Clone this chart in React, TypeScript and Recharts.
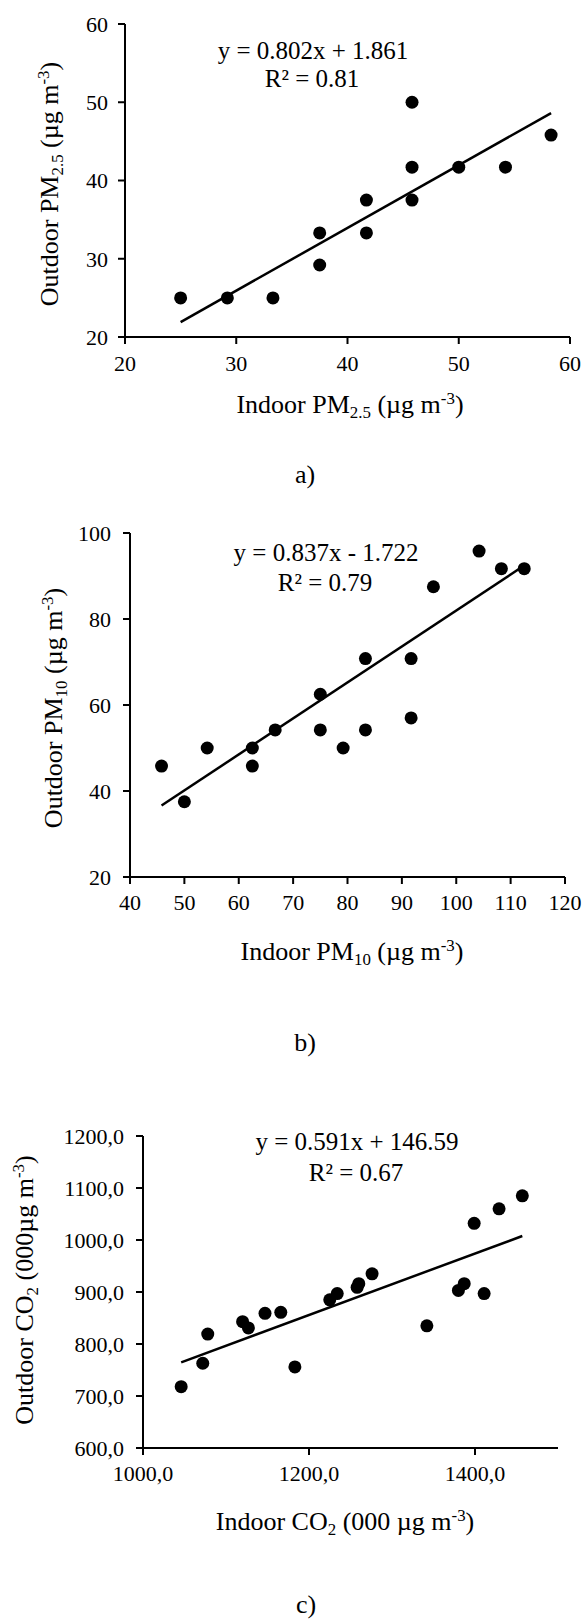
// App.tsx
import { ScatterChart, Scatter, XAxis, YAxis, ReferenceLine } from 'recharts';

// a) PM2.5
const pm25Indoor = [25, 29.2, 33.3, 37.5, 37.5, 41.7, 41.7, 45.8, 45.8, 45.8, 50, 54.2, 58.3];
const pm25Outdoor = [25, 25, 25, 33.3, 29.2, 37.5, 33.3, 50, 41.7, 37.5, 41.7, 41.7, 45.8];
const pm25Ticks = [20, 30, 40, 50, 60];

// b) PM10
const pm10Indoor = [45.8, 50, 54.2, 62.5, 62.5, 66.7, 75, 75, 79.2, 83.3, 83.3, 91.7, 91.7, 95.8, 104.2, 108.3, 112.5];
const pm10Outdoor = [45.8, 37.5, 50, 50, 45.8, 54.2, 62.5, 54.2, 50, 70.8, 54.2, 70.8, 57, 87.5, 95.8, 91.7, 91.7];
const pm10XTicks = [40, 50, 60, 70, 80, 90, 100, 110, 120];
const pm10YTicks = [20, 40, 60, 80, 100];

// c) CO2
const co2Indoor = [1046, 1072, 1078, 1120, 1127, 1147, 1166, 1183, 1225, 1234, 1258, 1260, 1276, 1342, 1380, 1387, 1411, 1399, 1429, 1457];
const co2Outdoor = [718, 763, 819, 843, 831, 859, 861, 756, 885, 897, 909, 916, 935, 835, 903, 916, 897, 1032, 1060, 1085];
const co2XTicks = [1000, 1200, 1400];
const co2YTicks = [600, 700, 800, 900, 1000, 1100, 1200];

// trend lines (slope, intercept) as printed on the chart
const fitA = { m: 0.802, b: 1.861 };
const fitB = { m: 0.837, b: -1.722 };
const fitC = { m: 0.591, b: 146.59 };

const FONT = '"Liberation Serif", "Times New Roman", serif';

const toPoints = (xs: number[], ys: number[]) => xs.map((x, i) => ({ x, y: ys[i] }));

const segment = (xs: number[], fit: { m: number; b: number }) => {
  const x0 = Math.min(...xs);
  const x1 = Math.max(...xs);
  return [
    { x: x0, y: fit.m * x0 + fit.b },
    { x: x1, y: fit.m * x1 + fit.b },
  ];
};

const Dot = (props: any) => <circle cx={props.cx} cy={props.cy} r={6.5} fill="#000" />;

const tickStyle = { fill: '#000', fontSize: 22, fontFamily: FONT };
const axisLine = { stroke: '#000', strokeWidth: 2 };

const Sub = ({ children }: any) => (
  <span style={{ fontSize: '0.65em', verticalAlign: '-0.3em', lineHeight: 0 }}>{children}</span>
);
const Sup = ({ children }: any) => (
  <span style={{ fontSize: '0.65em', verticalAlign: '0.55em', lineHeight: 0 }}>{children}</span>
);

const Txt = ({ x, y, size = 26, rotate = false, children }: any) => (
  <div
    style={{
      position: 'absolute',
      left: x,
      top: y,
      transform: `translate(-50%, -50%)${rotate ? ' rotate(-90deg)' : ''}`,
      fontSize: size,
      lineHeight: 1,
      whiteSpace: 'nowrap',
      fontFamily: FONT,
      color: '#000',
      textAlign: 'center',
    }}
  >
    {children}
  </div>
);

const Panel = ({ top, height, margin, yWidth, xDomain, yDomain, xTicks, yTicks, data, line, fmt, yMargin, xMargin }: any) => (
  <div style={{ position: 'absolute', left: 0, top }}>
    <ScatterChart width={584} height={height} margin={margin}>
      <XAxis
        type="number"
        dataKey="x"
        domain={xDomain}
        ticks={xTicks}
        interval={0}
        height={44}
        tick={tickStyle}
        tickSize={7}
        tickMargin={xMargin}
        axisLine={axisLine}
        tickLine={axisLine}
        allowDataOverflow
        tickFormatter={fmt}
      />
      <YAxis
        type="number"
        dataKey="y"
        domain={yDomain}
        ticks={yTicks}
        interval={0}
        width={yWidth}
        tick={tickStyle}
        tickSize={7}
        tickMargin={yMargin}
        axisLine={axisLine}
        tickLine={axisLine}
        allowDataOverflow
        tickFormatter={fmt}
      />
      <ReferenceLine segment={line} stroke="#000" strokeWidth={2.5} />
      <Scatter data={data} shape={Dot} isAnimationActive={false} />
    </ScatterChart>
  </div>
);

const co2Fmt = (v: number) => v.toFixed(1).replace('.', ',');

export default function App() {
  return (
    <div style={{ position: 'absolute', left: 0, top: 0, width: 584, height: 1620, background: '#fff', fontFamily: FONT }}>
      {/* a) */}
      <Panel
        top={0}
        height={384}
        margin={{ top: 24, right: 14, bottom: 3, left: 0 }}
        yWidth={125}
        xDomain={[20, 60]}
        yDomain={[20, 60]}
        xTicks={pm25Ticks}
        yTicks={pm25Ticks}
        data={toPoints(pm25Indoor, pm25Outdoor)}
        line={segment(pm25Indoor, fitA)}
        yMargin={10}
        xMargin={11}
      />
      <Txt x={313} y={50} size={25}>y = 0.802x + 1.861</Txt>
      <Txt x={312} y={78} size={25}>R² = 0.81</Txt>
      <Txt x={50} y={184} rotate>
        Outdoor PM<Sub>2.5</Sub> (µg m<Sup>-3</Sup>)
      </Txt>
      <Txt x={350} y={405}>
        Indoor PM<Sub>2.5</Sub> (µg m<Sup>-3</Sup>)
      </Txt>
      <Txt x={305} y={475}>a)</Txt>

      {/* b) */}
      <Panel
        top={500}
        height={424}
        margin={{ top: 33, right: 19, bottom: 3, left: 0 }}
        yWidth={130}
        xDomain={[40, 120]}
        yDomain={[20, 100]}
        xTicks={pm10XTicks}
        yTicks={pm10YTicks}
        data={toPoints(pm10Indoor, pm10Outdoor)}
        line={segment(pm10Indoor, fitB)}
        yMargin={12}
        xMargin={10}
      />
      <Txt x={326} y={552} size={25}>y = 0.837x - 1.722</Txt>
      <Txt x={325} y={582} size={25}>R² = 0.79</Txt>
      <Txt x={54} y={708} rotate>
        Outdoor PM<Sub>10</Sub> (µg m<Sup>-3</Sup>)
      </Txt>
      <Txt x={352} y={952}>
        Indoor PM<Sub>10</Sub> (µg m<Sup>-3</Sup>)
      </Txt>
      <Txt x={305} y={1043}>b)</Txt>

      {/* c) */}
      <Panel
        top={1100}
        height={404}
        margin={{ top: 36, right: 26, bottom: 12, left: 0 }}
        yWidth={143}
        xDomain={[1000, 1500]}
        yDomain={[600, 1200]}
        xTicks={co2XTicks}
        yTicks={co2YTicks}
        data={toPoints(co2Indoor, co2Outdoor)}
        line={segment(co2Indoor, fitC)}
        fmt={co2Fmt}
        yMargin={12}
        xMargin={10}
      />
      <Txt x={357} y={1141} size={25}>y = 0.591x + 146.59</Txt>
      <Txt x={356} y={1172} size={25}>R² = 0.67</Txt>
      <Txt x={25} y={1290} rotate>
        Outdoor CO<Sub>2</Sub> (000µg m<Sup>-3</Sup>)
      </Txt>
      <Txt x={345} y={1522}>
        Indoor CO<Sub>2</Sub> (000 µg m<Sup>-3</Sup>)
      </Txt>
      <Txt x={306} y={1605}>c)</Txt>
    </div>
  );
}
